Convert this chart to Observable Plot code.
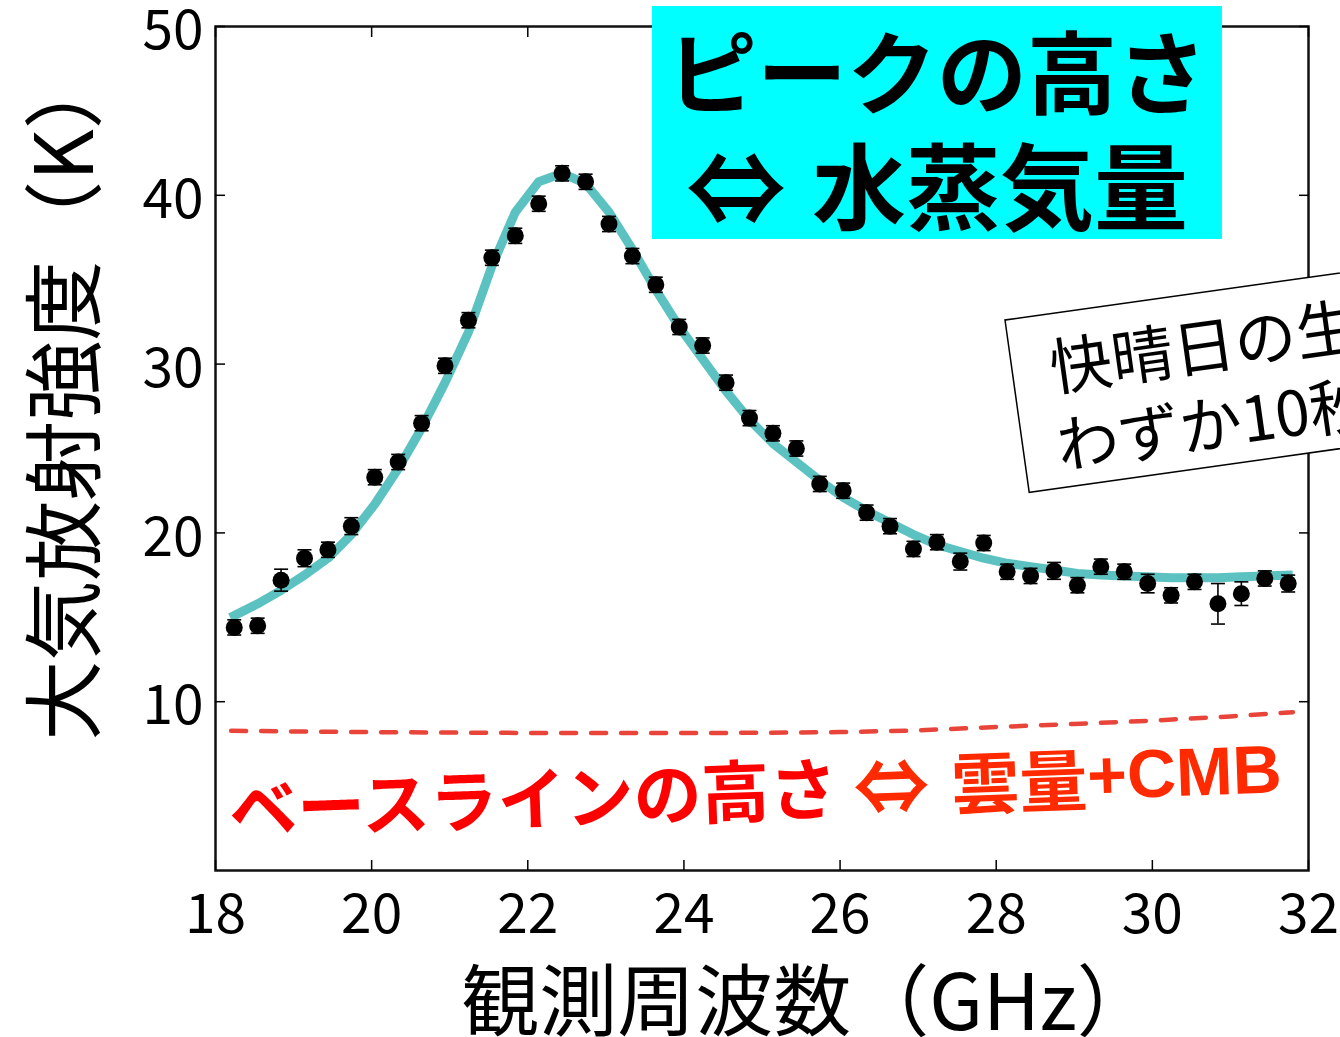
<!DOCTYPE html>
<html><head><meta charset="utf-8">
<script src="https://cdn.jsdelivr.net/npm/d3@7"></script>
<script src="https://cdn.jsdelivr.net/npm/@observablehq/plot@0.6"></script>
<style>html,body{margin:0;padding:0;background:#fff;overflow:hidden}</style>
</head><body><div id="chart"></div>
<script>
// observed frequency (GHz)
const freq = [18.24, 18.54, 18.84, 19.14, 19.44, 19.74, 20.04, 20.34, 20.64, 20.94,
  21.24, 21.54, 21.84, 22.14, 22.44, 22.74, 23.04, 23.34, 23.64, 23.94,
  24.24, 24.54, 24.84, 25.14, 25.44, 25.74, 26.04, 26.34, 26.64, 26.94,
  27.24, 27.54, 27.84, 28.14, 28.44, 28.74, 29.04, 29.34, 29.64, 29.94,
  30.24, 30.54, 30.84, 31.14, 31.44, 31.74];
// measured brightness temperature (K)
const intensity = [14.4, 14.5, 17.2, 18.5, 19.0, 20.4, 23.3, 24.2, 26.5, 29.9,
  32.6, 36.3, 37.6, 39.5, 41.3, 40.8, 38.3, 36.4, 34.7, 32.2,
  31.1, 28.9, 26.8, 25.9, 25.0, 22.9, 22.5, 21.2, 20.4, 19.05,
  19.45, 18.3, 19.4, 17.7, 17.45, 17.75, 16.9, 18.0, 17.7, 17.0,
  16.3, 17.1, 15.8, 16.4, 17.3, 17.0];
// error (K)
const errors = [0.45, 0.45, 0.65, 0.5, 0.45, 0.5, 0.45, 0.45, 0.45, 0.45,
  0.45, 0.45, 0.45, 0.45, 0.45, 0.45, 0.45, 0.45, 0.45, 0.45,
  0.45, 0.45, 0.45, 0.45, 0.45, 0.45, 0.45, 0.45, 0.45, 0.45,
  0.45, 0.5, 0.45, 0.45, 0.45, 0.5, 0.45, 0.45, 0.45, 0.55,
  0.45, 0.45, 1.2, 0.7, 0.45, 0.5];
// model fit (K)
const fit = [15.1, 15.8, 16.6, 17.5, 18.5, 19.9, 21.7, 23.8, 26.2, 28.9,
  31.9, 35.8, 39.0, 40.8, 41.3, 40.7, 39.0, 36.8, 34.4, 32.2,
  30.3, 28.4, 26.7, 25.3, 24.2, 23.1, 22.1, 21.3, 20.6, 19.9,
  19.3, 18.9, 18.5, 18.2, 18.0, 17.8, 17.6, 17.5, 17.45, 17.4,
  17.35, 17.35, 17.35, 17.4, 17.45, 17.5];
// baseline (cloud + CMB) curve
const baseFreq = [18.2, 19, 20, 21, 22, 23, 24, 25, 26, 27, 28, 29, 30, 31, 31.8];
const baseline = [8.28, 8.24, 8.2, 8.17, 8.15, 8.14, 8.14, 8.16, 8.2, 8.3, 8.5, 8.68, 8.88, 9.13, 9.38];

const xTicks = [18, 20, 22, 24, 26, 28, 30, 32];
const yTicks = [10, 20, 30, 40, 50];

const rows = freq.map((f, i) => ({f, t: intensity[i], e: errors[i]}));
const fitRows = freq.map((f, i) => ({f, t: fit[i]}));
const baseRows = baseFreq.map((f, i) => ({f, t: baseline[i]}));

const cap = {draw(ctx) { ctx.moveTo(-7, 0); ctx.lineTo(7, 0); }};
const font = "'Noto Sans CJK JP', 'Noto Sans', sans-serif";
const blank = () => "";

const chart = Plot.plot({
  width: 1340, height: 1037,
  marginLeft: 215, marginRight: 32, marginTop: 26, marginBottom: 167,
  x: {domain: [18, 32]},
  y: {domain: [0, 50]},
  style: {fontFamily: font, fontSize: "55px", background: "white", color: "black"},
  marks: [
    Plot.line(baseRows, {x: "f", y: "t", stroke: "#e8443a", strokeWidth: 4.5, strokeDasharray: "15,15"}),
    Plot.line(fitRows, {x: "f", y: "t", stroke: "#5bc2c1", strokeWidth: 9, strokeLinejoin: "round", strokeLinecap: "square"}),
    Plot.ruleX(rows, {x: "f", y1: d => d.t - d.e, y2: d => d.t + d.e, stroke: "black", strokeWidth: 1.6}),
    Plot.dot(rows, {x: "f", y: d => d.t - d.e, symbol: cap, fill: "none", stroke: "black", strokeWidth: 1.6}),
    Plot.dot(rows, {x: "f", y: d => d.t + d.e, symbol: cap, fill: "none", stroke: "black", strokeWidth: 1.6}),
    Plot.dot(rows, {x: "f", y: "t", r: 8.5, fill: "black", stroke: "none"}),
    Plot.frame({stroke: "#111", strokeWidth: 2.5}),
    // inward ticks on all four sides
    Plot.axisX(xTicks, {anchor: "bottom", tickSize: -10, strokeWidth: 1.5, label: null, tickFormat: blank}),
    Plot.axisX(xTicks, {anchor: "top", tickSize: -10, strokeWidth: 1.5, label: null, tickFormat: blank}),
    Plot.axisY(yTicks, {anchor: "left", tickSize: -10, strokeWidth: 1.5, label: null, tickFormat: blank}),
    Plot.axisY(yTicks, {anchor: "right", tickSize: -10, strokeWidth: 1.5, label: null, tickFormat: blank}),
    // tick labels
    Plot.axisX(xTicks, {anchor: "bottom", tickSize: 0, tickPadding: 23, label: null, fontSize: 55}),
    Plot.axisY(yTicks, {anchor: "left", tickSize: 0, tickPadding: 12, dy: 5, label: null, fontSize: 55})
  ]
});
document.getElementById("chart").appendChild(chart);

const svg = d3.select(chart);
// axis titles
svg.append("text").attr("transform", "translate(58,395) rotate(-90)")
  .attr("text-anchor", "middle").attr("dominant-baseline", "central")
  .style("font-family", font).style("font-size", "80px").attr("fill", "black")
  .text("大気放射強度（K）");
svg.append("text").attr("x", 808).attr("y", 996)
  .attr("text-anchor", "middle").attr("dominant-baseline", "central")
  .style("font-family", font).style("font-size", "78px").attr("fill", "black")
  .text("観測周波数（GHz）");

// cyan annotation
const g1 = svg.append("g");
g1.append("rect").attr("x", 652).attr("y", 6).attr("width", 570).attr("height", 233).attr("fill", "#00ffff");
g1.append("text").attr("x", 937).attr("y", 68).attr("text-anchor", "middle").attr("dominant-baseline", "central")
  .style("font-family", font).style("font-size", "90px").style("font-weight", "700").attr("fill", "black")
  .text("ピークの高さ");
const l2 = g1.append("text").attr("x", 686).attr("y", 182).attr("text-anchor", "start").attr("dominant-baseline", "central")
  .style("font-family", font).style("font-weight", "700").attr("fill", "black");
l2.append("tspan").style("font-size", "100px").text("⇔");
l2.append("tspan").attr("dx", 26).style("font-size", "94px").text("水蒸気量");

// red baseline annotation
const t2 = svg.append("text").attr("transform", "translate(229,805) rotate(-2)")
  .attr("text-anchor", "start").attr("dominant-baseline", "central")
  .style("font-family", font).style("font-size", "68px").style("font-weight", "700");
t2.append("tspan").attr("fill", "#ff0000").text("ベースラインの高さ");
t2.append("tspan").attr("dx", 16).attr("fill", "#ff2a00").style("font-size", "76px").text("⇔");
t2.append("tspan").attr("dx", 22).attr("fill", "#ff2a00").text("雲量");
t2.append("tspan").attr("fill", "#ff2a00").style("font-family", "'Liberation Sans', Arial, sans-serif").text("+CMB");

// rotated white note box
const g3 = svg.append("g").attr("transform", "translate(1005,320) rotate(-8)");
g3.append("rect").attr("x", 0).attr("y", 0).attr("width", 700).attr("height", 174)
  .attr("fill", "white").attr("stroke", "black").attr("stroke-width", 1.5);
g3.append("text").attr("x", 38).attr("y", 50).attr("text-anchor", "start").attr("dominant-baseline", "central")
  .style("font-family", font).style("font-size", "62px").attr("fill", "black").text("快晴日の生データ");
g3.append("text").attr("x", 34).attr("y", 128).attr("text-anchor", "start").attr("dominant-baseline", "central")
  .style("font-family", font).style("font-size", "62px").attr("fill", "black").text("わずか10秒積分");
</script>
</body></html>
